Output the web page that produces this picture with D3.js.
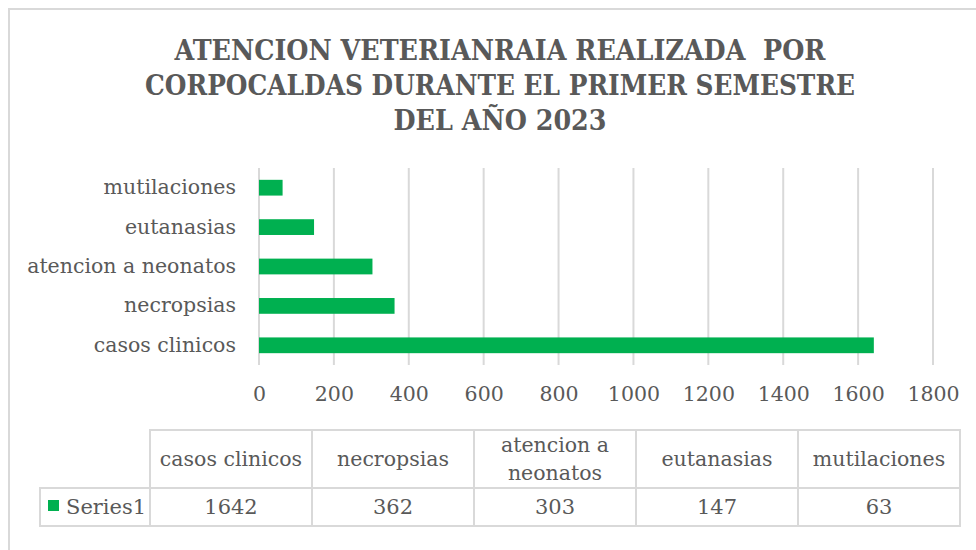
<!DOCTYPE html>
<html>
<head>
<meta charset="utf-8">
<script src="https://cdn.jsdelivr.net/npm/d3@7"></script>
<style>
  body { margin: 0; background: #fff; }
  svg { display: block; }
  text { font-family: "DejaVu Serif", serif; fill: #595959; }
</style>
</head>
<body>
<svg id="chart" width="976" height="550"></svg>
<script>
// data
const categories = ["casos clinicos", "necropsias", "atencion a neonatos", "eutanasias", "mutilaciones"];
const values = [1642, 362, 303, 147, 63];
const seriesName = "Series1";
const xTicks = [0, 200, 400, 600, 800, 1000, 1200, 1400, 1600, 1800];
const titleLines = [
  "ATENCION VETERIANRAIA REALIZADA  POR",
  "CORPOCALDAS DURANTE EL PRIMER SEMESTRE",
  "DEL AÑO 2023"
];

const green = "#00b050", gridColor = "#d9d9d9";
const svg = d3.select("#chart");

// chart frame (only left + top edges show in the window)
svg.append("rect")
  .attr("x", 9).attr("y", 9)
  .attr("width", 1000).attr("height", 600)
  .attr("fill", "#fff")
  .attr("stroke", gridColor).attr("stroke-width", 2);

// title
const titleW = [651, 710, 213];
svg.append("g").selectAll("text")
  .data(titleLines)
  .join("text")
    .attr("x", 500)
    .attr("y", (d, i) => 60 + i * 35)
    .attr("text-anchor", "middle")
    .attr("textLength", (d, i) => titleW[i])
    .attr("lengthAdjust", "spacingAndGlyphs")
    .style("font-family", '"DejaVu Serif Condensed", "DejaVu Serif", serif')
    .style("font-stretch", "condensed")
    .style("font-weight", "bold")
    .style("font-size", "27px")
    .style("white-space", "pre")
    .text(d => d);

// scales
const x = d3.scaleLinear().domain([0, 1800]).range([259, 933]);
const y = d3.scaleBand()
  .domain(categories.slice().reverse())
  .range([168, 365])
  .paddingInner(0.6)
  .paddingOuter(0.3);

// gridlines
svg.append("g").selectAll("line")
  .data(xTicks)
  .join("line")
    .attr("x1", d => x(d)).attr("x2", d => x(d))
    .attr("y1", 168).attr("y2", 365)
    .attr("stroke", gridColor)
    .attr("stroke-width", 2);

// bars
svg.append("g").selectAll("rect")
  .data(categories)
  .join("rect")
    .attr("x", x(0))
    .attr("y", d => y(d))
    .attr("width", (d, i) => x(values[i]) - x(0))
    .attr("height", y.bandwidth())
    .attr("fill", green);

// category axis
const yAxis = svg.append("g")
  .attr("transform", "translate(259,0)")
  .call(d3.axisLeft(y).tickSize(0).tickPadding(23));
yAxis.select(".domain").remove();
yAxis.selectAll("text")
  .attr("fill", "#595959")
  .style("font-family", '"DejaVu Serif", serif')
  .style("font-size", "20.5px");

// value axis
const xAxis = svg.append("g")
  .attr("transform", "translate(0,365)")
  .call(d3.axisBottom(x).tickValues(xTicks).tickSize(0).tickPadding(21).tickFormat(d3.format("d")));
xAxis.select(".domain").remove();
xAxis.selectAll("text")
  .attr("fill", "#595959")
  .style("font-family", '"DejaVu Serif", serif')
  .style("font-size", "20.5px");

// data table
const colX = d3.scaleBand().domain(categories).range([150, 960]);
const headTop = 430, headBot = 488, rowBot = 526, keyLeft = 40;
const table = svg.append("g");
const lineStyle = sel => sel.attr("stroke", gridColor).attr("stroke-width", 2).attr("fill", "none");

table.append("path")
  .attr("d", `M150,${rowBot}V${headTop}H960V${rowBot}H${keyLeft}V${headBot}H960`)
  .call(lineStyle);
table.selectAll("line.col")
  .data(categories.slice(1))
  .join("line")
    .attr("class", "col")
    .attr("x1", d => colX(d)).attr("x2", d => colX(d))
    .attr("y1", headTop).attr("y2", rowBot)
    .call(lineStyle);

// header labels, wrapped when too wide for the cell
categories.forEach(c => {
  const t = table.append("text")
    .attr("text-anchor", "middle")
    .style("font-size", "20.5px");
  const cx = colX(c) + colX.bandwidth() / 2;
  t.text(c);
  let lines = [c];
  if (t.node().getComputedTextLength() > colX.bandwidth() - 10) {
    const words = c.split(" ");
    lines = [words.slice(0, -1).join(" "), words[words.length - 1]];
  }
  t.text(null);
  lines.forEach((l, i) => {
    t.append("tspan")
      .attr("x", cx)
      .attr("y", (headTop + headBot) / 2 + 7 + (i - (lines.length - 1) / 2) * 28)
      .text(l);
  });
});

// values row
table.selectAll("text.val")
  .data(values)
  .join("text")
    .attr("class", "val")
    .attr("x", (d, i) => colX(categories[i]) + colX.bandwidth() / 2)
    .attr("y", (headBot + rowBot) / 2 + 7)
    .attr("text-anchor", "middle")
    .style("font-size", "21px")
    .text(d => d);

// legend key
table.append("rect")
  .attr("x", 48).attr("y", 500)
  .attr("width", 11).attr("height", 11)
  .attr("fill", green);
table.append("text")
  .attr("x", 66).attr("y", 514)
  .style("font-size", "21px")
  .text(seriesName);
</script>
</body>
</html>
